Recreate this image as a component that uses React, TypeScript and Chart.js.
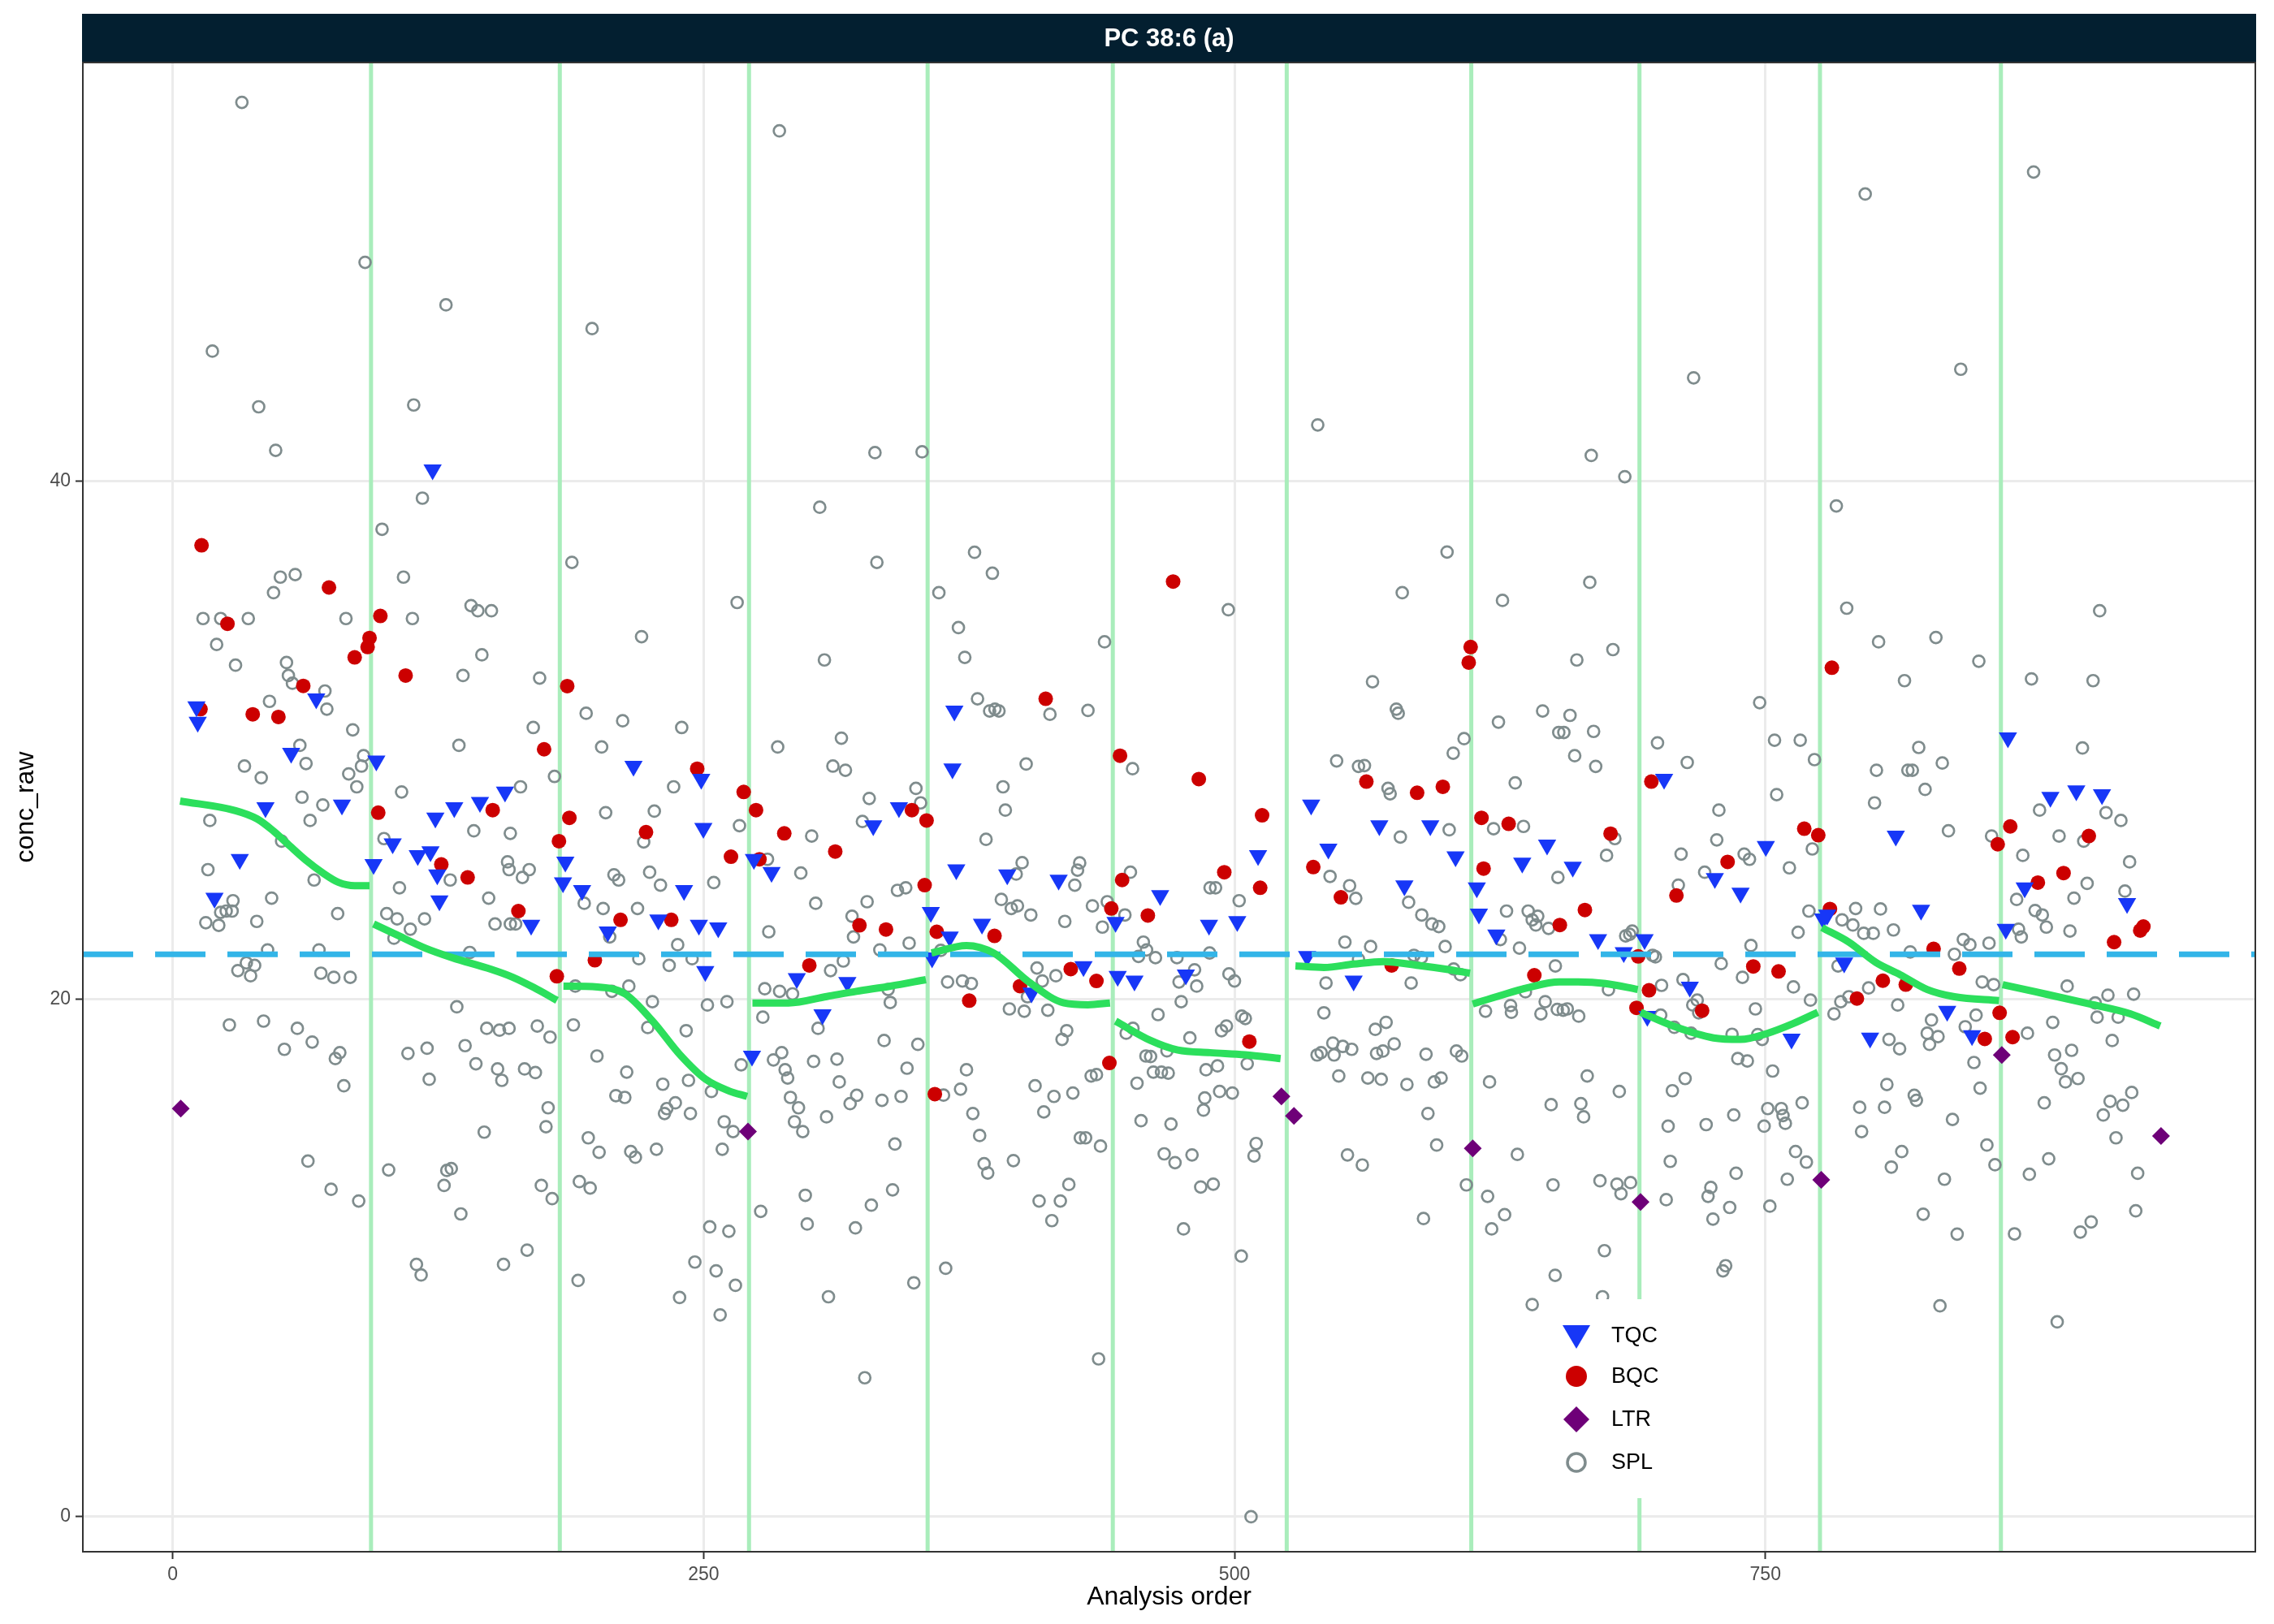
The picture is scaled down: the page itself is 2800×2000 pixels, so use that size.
import { useEffect, useRef } from "react"
import { Chart, registerables } from "chart.js"

Chart.register(...registerables)

const xTicks = [0, 250, 500, 750]
const yTicks = [0, 20, 40]
const meanLevel = 21.73
const batchBreaks = [93.4, 182.3, 271.4, 355.5, 442.7, 524.6, 611.5, 690.7, 775.7, 860.9]

// [analysis order, conc_raw]
const splPoints: [number, number][] = [
  [50.7, 36.3], [57.7, 36.4], [47.5, 35.7], [108.7, 36.3], [14.3, 34.7], [22.6, 34.7], [35.6, 34.7], [81.6, 34.7],
  [112.9, 34.7], [140.5, 35.2], [143.7, 35.0], [150.1, 35.0], [20.7, 33.7], [29.6, 32.9], [145.6, 33.3], [53.6, 33.0],
  [54.5, 32.5], [56.4, 32.2], [71.7, 31.9], [72.6, 31.2], [136.7, 32.5], [45.6, 31.5], [84.8, 30.4], [134.8, 29.8],
  [59.9, 29.8], [62.8, 29.1], [89.9, 29.4], [88.9, 29.0], [82.9, 28.7], [86.7, 28.2], [33.8, 29.0], [41.7, 28.55],
  [107.8, 28.0], [60.9, 27.8], [70.7, 27.5], [17.5, 26.9], [64.7, 26.9], [51.3, 26.1], [99.5, 26.2], [141.8, 26.5],
  [159, 26.4], [157.7, 25.3], [158.4, 25.0], [130.7, 24.6], [106.8, 24.3], [148.8, 23.9], [151.8, 22.9], [159, 22.9],
  [16.6, 25.0], [66.6, 24.6], [28.4, 23.8], [25.2, 23.4], [22.6, 23.35], [28.0, 23.4], [15.6, 22.95], [21.7, 22.85],
  [46.6, 23.9], [39.6, 23.0], [77.7, 23.3], [100.8, 23.3], [105.7, 23.1], [111.9, 22.7], [104.2, 22.35], [118.6, 23.1],
  [139.9, 21.8], [44.7, 21.9], [68.9, 21.9], [34.7, 21.4], [38.6, 21.3], [30.7, 21.1], [36.7, 20.9], [69.8, 21.0],
  [75.9, 20.84], [83.6, 20.84], [133.8, 19.7], [26.7, 19.0], [42.8, 19.15], [58.7, 18.87], [65.7, 18.34], [52.6, 18.06],
  [78.7, 17.93], [76.6, 17.7], [80.6, 16.65], [110.8, 17.9], [119.8, 18.1], [120.8, 16.9], [137.7, 18.2], [142.8, 17.5],
  [147.9, 18.87], [153.9, 18.8], [158.4, 18.87], [153.0, 17.3], [155.0, 16.86], [146.7, 14.86], [63.7, 13.74], [74.6, 12.65],
  [87.6, 12.2], [101.7, 13.4], [131.2, 13.45], [129.1, 13.38], [127.8, 12.8], [135.7, 11.7], [114.8, 9.75], [117, 9.34],
  [155.8, 9.75], [32.6, 54.64], [90.6, 48.46], [128.7, 46.82], [18.7, 45.03], [40.5, 42.88], [113.5, 42.95], [48.5, 41.2],
  [117.6, 39.35], [98.6, 38.15],
  [265.8, 35.32], [220.8, 34.0], [172.8, 32.4], [306.9, 33.1], [194.7, 31.04], [169.8, 30.49], [211.9, 30.75], [239.7, 30.49],
  [202, 29.74], [284.9, 29.74], [314.9, 30.08], [310.9, 29.0], [316.8, 28.84], [179.8, 28.6], [235.9, 28.2], [163.8, 28.2],
  [266.9, 26.7], [203.9, 27.2], [226.8, 27.26], [221.8, 26.07], [300.9, 26.3], [280.1, 25.4], [295.8, 24.87], [167.9, 25.0],
  [164.7, 24.7], [207.8, 24.8], [210, 24.6], [224.6, 24.9], [229.7, 24.4], [254.8, 24.5], [302.8, 23.7], [193.8, 23.7],
  [202.7, 23.5], [218.9, 23.5], [161.5, 22.9], [205.8, 22.4], [280.7, 22.6], [319.9, 23.2], [320.6, 22.4], [237.8, 22.1],
  [219.5, 21.56], [233.8, 21.3], [244.6, 21.56], [315.8, 21.47], [309.8, 21.1], [189.6, 20.5], [206.8, 20.3], [214.8, 20.5],
  [278.8, 20.4], [285.8, 20.3], [291.9, 20.2], [225.9, 19.9], [251.8, 19.77], [261, 19.9], [303.9, 18.87], [277.9, 19.3],
  [171.7, 18.96], [177.7, 18.53], [188.7, 19.0], [223.7, 18.9], [241.8, 18.78], [267.7, 17.46], [282.9, 17.65], [286.8, 17.93],
  [288.4, 17.27], [289.6, 16.95], [290.9, 16.2], [294.7, 15.8], [292.8, 15.26], [296.7, 14.88], [301.8, 17.59], [312.8, 17.68],
  [313.9, 16.8], [307.9, 15.45], [319, 15.96], [322.1, 16.28], [199.8, 17.8], [213.8, 17.18], [165.7, 17.3], [170.8, 17.16],
  [208.7, 16.27], [212.9, 16.2], [230.8, 16.71], [242.9, 16.86], [253.7, 16.43], [236.7, 15.99], [232.7, 15.77], [231.6, 15.58],
  [243.8, 15.58], [176.8, 15.8], [175.8, 15.07], [259.7, 15.26], [263.9, 14.88], [258.8, 14.2], [195.7, 14.64], [200.8, 14.08],
  [215.7, 14.11], [217.9, 13.89], [227.8, 14.2], [173.6, 12.8], [178.7, 12.29], [191.5, 12.95], [196.6, 12.7], [276.9, 11.8],
  [297.9, 12.42], [298.8, 11.31], [321.5, 11.16], [252.9, 11.2], [261.9, 11.03], [166.9, 10.3], [190.9, 9.13], [245.9, 9.84],
  [255.9, 9.5], [265.0, 8.94], [238.7, 8.47], [257.8, 7.8], [308.8, 8.5], [188, 36.87], [197.5, 45.9], [285.7, 53.54],
  [304.7, 39.0], [325.9, 5.37],
  [386, 36.45], [360.8, 35.7], [370, 34.35], [373, 33.2], [438.8, 33.8], [379, 31.6], [384.7, 31.13], [387.2, 31.2],
  [389.1, 31.13], [413.1, 31.0], [431, 31.15], [401.9, 29.08], [452, 28.9], [391, 28.2], [392.1, 27.3], [383, 26.17],
  [328, 27.75], [324.8, 26.86], [350, 28.14], [352.2, 27.58], [400, 25.27], [397.2, 24.83], [427.1, 25.26], [426.1, 24.98],
  [424.8, 24.4], [451, 24.9], [341.3, 24.2], [345.2, 24.3], [327, 23.76], [333, 21.9], [346.8, 22.16], [336.9, 20.37],
  [337.9, 19.87], [361.7, 21.88], [390.2, 23.85], [394.9, 23.5], [397.8, 23.6], [404.1, 23.25], [420.1, 23.0], [433.1, 23.6],
  [440.1, 23.76], [437.8, 22.78], [448.4, 23.25], [488.5, 24.3], [457.1, 22.2], [458.6, 21.9], [462.8, 21.6], [454.8, 21.65],
  [472.9, 21.6], [481.2, 21.13], [473.9, 20.66], [482.2, 20.5], [474.9, 19.9], [364.9, 20.66], [371.9, 20.7], [376.1, 20.6],
  [402.5, 20.09], [407, 21.2], [409.5, 20.7], [415.9, 20.9], [394, 19.62], [401, 19.53], [412.1, 19.57], [464, 19.4],
  [449, 18.68], [452.2, 18.87], [479, 18.5], [421, 18.78], [418.8, 18.44], [335, 18.4], [350.9, 18.25], [345.8, 17.33],
  [373.8, 17.27], [371, 16.52], [458.3, 17.8], [460.5, 17.78], [461.8, 17.18], [465.6, 17.18], [468.8, 17.14], [468.2, 18.0],
  [454.1, 16.75], [432.5, 17.03], [435, 17.08], [486.6, 17.27], [486, 16.18], [485.4, 15.71], [334, 16.09], [343, 16.24],
  [363, 16.29], [376.8, 15.58], [380, 14.73], [406.1, 16.65], [415, 16.24], [423.9, 16.37], [410.2, 15.64], [456, 15.3],
  [470.1, 15.17], [340.1, 14.4], [427.4, 14.64], [429.9, 14.64], [436.9, 14.32], [382.1, 13.64], [383.8, 13.28], [395.9, 13.76],
  [466.9, 14.02], [472, 13.68], [480, 13.98], [339, 12.63], [329, 12.04], [484.1, 12.74], [408, 12.2], [418, 12.2],
  [414, 11.44], [422, 12.84], [476, 11.12], [364, 9.6], [349, 9.04], [331.6, 36.87], [330.7, 41.11], [352.9, 41.14],
  [377.6, 37.26], [436, 6.1],
  [497.1, 35.04], [579, 35.7], [626.2, 35.4], [565, 32.26], [576.2, 31.2], [577.1, 31.04], [624.3, 30.7], [645.1, 31.13],
  [652.7, 30.3], [608.1, 30.06], [603, 29.5], [548.1, 29.2], [558.4, 28.99], [561.2, 29.02], [572.3, 28.14], [573.3, 27.93],
  [632.2, 28.35], [578.1, 26.26], [601.1, 26.54], [622, 26.58], [636.1, 26.67], [491.1, 24.3], [502.2, 23.8], [545, 24.74],
  [554.2, 24.38], [557.1, 23.89], [582, 23.74], [588.2, 23.25], [593, 22.9], [596.2, 22.8], [628.1, 23.4], [638.3, 23.4],
  [640.2, 23.06], [642.8, 23.2], [641.9, 22.86], [647.9, 22.73], [652.3, 24.7], [488.3, 21.78], [497.4, 20.97], [500, 20.7],
  [503.4, 19.34], [505.1, 19.25], [496.2, 18.96], [493.9, 18.78], [506, 17.5], [492, 17.42], [493, 16.43], [499, 16.37],
  [510.2, 14.42], [509.2, 13.94], [490, 12.85], [503.2, 10.07], [552, 22.2], [564.1, 22.03], [558.4, 21.54], [584.5, 21.69],
  [588, 21.6], [599.2, 22.03], [603.2, 21.16], [606.4, 20.94], [543.1, 20.62], [583.2, 20.62], [625.2, 22.3], [634.2, 21.97],
  [651.1, 21.28], [637, 20.28], [618.2, 19.53], [630, 19.75], [630.4, 19.49], [644.3, 19.43], [646.3, 19.9], [652, 19.6],
  [542.1, 19.47], [566.3, 18.83], [571.4, 19.1], [538.9, 17.84], [540.8, 17.93], [546.3, 18.3], [551, 18.17], [555.2, 18.06],
  [546.9, 17.84], [566.9, 17.9], [569.9, 17.99], [575.2, 18.27], [549.1, 17.03], [562.8, 16.95], [569.1, 16.9], [581.2, 16.7],
  [590.2, 17.87], [604.5, 17.99], [607, 17.8], [594.1, 16.8], [597.3, 16.95], [620.1, 16.8], [591.1, 15.58], [649.1, 15.92],
  [595.2, 14.36], [633.2, 14.0], [553.2, 13.98], [560.2, 13.59], [609.2, 12.82], [650, 12.82], [619.2, 12.38], [627.2, 11.67],
  [621.1, 11.12], [589, 11.52], [651, 9.33], [640.2, 8.2], [539.2, 42.18], [600.1, 37.27], [507.8, 0.0],
  [667.3, 36.1], [788.3, 35.1], [803.3, 33.8], [815.5, 32.3], [661.2, 33.1], [678.2, 33.5], [747.3, 31.45], [658, 30.96],
  [655.1, 30.3], [669.1, 30.34], [660.2, 29.4], [670.1, 28.99], [699.2, 29.9], [713.2, 29.14], [754.3, 30.0], [766.4, 30.0],
  [773.1, 29.25], [755.3, 27.9], [802.3, 28.84], [801.4, 27.58], [817.1, 28.84], [728.1, 27.3], [727.1, 26.15], [772.1, 25.8],
  [679.1, 26.2], [675.2, 25.55], [710.3, 25.6], [721.4, 24.9], [740, 25.6], [742.5, 25.4], [761.3, 25.07], [709, 24.4],
  [684.2, 22.44], [687.3, 22.63], [686.1, 22.5], [696.9, 21.69], [698.2, 21.63], [676.1, 20.36], [701.1, 20.53], [711.2, 20.75],
  [717.9, 19.96], [715.8, 19.77], [718.6, 19.47], [700.7, 19.38], [707.1, 18.91], [715, 18.68], [656.7, 19.62], [654.8, 19.57],
  [662.1, 19.34], [729.2, 21.37], [743.2, 22.07], [739.2, 20.84], [765.4, 22.58], [770.5, 23.4], [763.2, 20.47], [771.2, 19.96],
  [745.3, 19.62], [734.3, 18.64], [746.4, 18.63], [748.5, 18.44], [737, 17.7], [741.5, 17.61], [753.4, 17.22], [792.5, 23.5],
  [804.2, 23.48], [810.3, 22.67], [786.1, 23.06], [791.2, 22.86], [796.3, 22.54], [800.8, 22.54], [784.2, 21.28], [798.6, 20.43],
  [789.3, 20.09], [785.5, 19.9], [782.3, 19.43], [812.3, 19.77], [808.2, 18.44], [813.2, 18.08], [807.2, 16.7], [806.1, 15.82],
  [794.4, 15.82], [795.3, 14.88], [814.2, 14.11], [809.3, 13.51], [666.1, 17.03], [681.2, 16.43], [663.1, 15.96], [664.4, 15.45],
  [706.2, 16.46], [712.2, 16.93], [704.2, 15.09], [722.1, 15.15], [735.1, 15.52], [751.1, 15.77], [757.5, 15.77], [758.3, 15.5],
  [759.4, 15.2], [749.4, 15.09], [767.3, 15.99], [705.2, 13.73], [764.2, 14.11], [769.3, 13.7], [760.3, 13.04], [736.2, 13.27],
  [672.1, 12.98], [680.1, 12.85], [682, 12.48], [686.5, 12.91], [703.3, 12.25], [724.3, 12.72], [723, 12.38], [725.3, 11.5],
  [733.2, 11.95], [752.1, 12.0], [674.2, 10.28], [731.3, 9.7], [730, 9.5], [673.3, 8.5], [797, 51.1], [716.2, 44.0],
  [668, 41.0], [683.8, 40.18], [783.4, 39.05],
  [907.4, 35.0], [830.3, 33.97], [850.5, 33.05], [875.3, 32.37], [904.3, 32.3], [899.3, 29.7], [822.2, 29.72], [833.3, 29.12],
  [819.2, 28.84], [825.2, 28.1], [879.1, 27.3], [910.4, 27.2], [917.4, 26.9], [836.2, 26.5], [856.5, 26.3], [888.3, 26.3],
  [899.9, 26.1], [871.2, 25.55], [921.5, 25.3], [901.5, 24.47], [895.3, 23.9], [868.3, 23.85], [919.3, 24.17], [877, 23.42],
  [880.4, 23.25], [882.3, 22.78], [893.4, 22.63], [869.2, 22.7], [870.5, 22.4], [843.2, 22.3], [846.3, 22.1], [855.3, 22.16],
  [818.2, 21.82], [839, 21.73], [852.1, 20.66], [857.5, 20.56], [892.1, 20.5], [911.3, 20.15], [923.4, 20.19], [905.3, 19.85],
  [906.2, 19.3], [916.1, 19.3], [849.2, 19.38], [828.2, 19.19], [826.2, 18.68], [831.3, 18.55], [827.3, 18.25], [844.1, 18.93],
  [873.4, 18.68], [885.3, 19.1], [848.2, 17.55], [851.1, 16.56], [886.2, 17.84], [894.2, 18.02], [889.3, 17.31], [891.3, 16.8],
  [897.2, 16.93], [913.3, 18.4], [881.3, 15.99], [912.3, 16.05], [918.3, 15.9], [922.5, 16.39], [909.1, 15.52], [820.1, 16.28],
  [821.1, 16.09], [838.1, 15.35], [915.1, 14.64], [854.3, 14.36], [858.1, 13.6], [883.4, 13.83], [874.3, 13.23], [834.3, 13.04],
  [925.3, 13.27], [824.3, 11.69], [840.3, 10.92], [867.3, 10.93], [898.3, 11.0], [903.4, 11.39], [924.4, 11.82], [832.2, 8.15],
  [887.4, 7.53], [876.3, 51.95], [842, 44.33],
]

const tqcPoints: [number, number][] = [
  [11.2, 31.3], [11.8, 30.7], [67.6, 31.6], [55.8, 29.5], [95.9, 29.2], [79.7, 27.5], [43.7, 27.4], [103.6, 26.0],
  [115.4, 25.55], [121.4, 25.7], [124.6, 24.8], [125.6, 23.8], [123.7, 27.0], [132.6, 27.4], [144.7, 27.6], [156.5, 28.0],
  [31.6, 25.4], [19.7, 23.9], [94.6, 25.2], [122.4, 40.45],
  [217, 29.0], [248.9, 28.5], [249.9, 26.6], [273.7, 25.4], [282, 24.9], [184.9, 25.3], [183.8, 24.5], [192.8, 24.2],
  [168.8, 22.86], [204.9, 22.6], [228.7, 23.06], [240.8, 24.2], [247.8, 22.86], [256.9, 22.76], [250.8, 21.07], [293.9, 20.8],
  [317.7, 20.65], [306, 19.4], [272.8, 17.8],
  [368.1, 31.13], [367.2, 28.9], [329.9, 26.7], [342, 27.4], [369, 25.0], [393, 24.8], [417.2, 24.6], [465, 24.0],
  [357, 23.35], [365.9, 22.4], [357.6, 21.6], [381.1, 22.9], [444, 22.97], [428.9, 21.26], [445, 20.88], [452.9, 20.7],
  [477.1, 20.94], [404.4, 20.24], [488, 22.86],
  [536.1, 27.5], [568.2, 26.7], [592.2, 26.7], [647.2, 25.96], [511.1, 25.55], [544.2, 25.8], [604.1, 25.5], [580, 24.38],
  [614.1, 24.3], [635.5, 25.26], [615.1, 23.29], [623.3, 22.48], [501.3, 23.0], [534.2, 21.65], [556.1, 20.7],
  [702.3, 28.5], [750.2, 25.9], [811.4, 26.3], [659.3, 25.1], [726.2, 24.66], [738.3, 24.1], [671.2, 22.3], [683.3, 21.8],
  [693.1, 22.3], [694.4, 19.34], [714.4, 20.47], [762.3, 18.46], [779.1, 23.25], [777.2, 23.1], [787.1, 21.4], [799.3, 18.5],
  [864.2, 30.1], [884.2, 27.8], [896.4, 28.05], [908.5, 27.9], [872.1, 24.3], [920.3, 23.7], [823.3, 23.44], [863.2, 22.7],
  [835.6, 19.53], [847.3, 18.59],
]

const bqcPoints: [number, number][] = [
  [73.6, 35.9], [25.8, 34.5], [97.8, 34.8], [92.7, 33.95], [91.8, 33.6], [85.7, 33.2], [109.7, 32.5], [61.5, 32.1],
  [13.1, 31.2], [37.7, 31.0], [49.8, 30.9], [96.8, 27.2], [150.7, 27.3], [126.5, 25.2], [138.9, 24.7], [13.6, 37.53],
  [185.8, 32.09], [174.9, 29.65], [247, 28.9], [268.9, 28.0], [274.7, 27.3], [186.8, 27.0], [222.9, 26.45], [288, 26.4],
  [312, 25.7], [181.9, 26.1], [262.9, 25.5], [276.3, 25.4], [162.8, 23.4], [210.9, 23.06], [234.8, 23.06], [323.4, 22.85],
  [198.8, 21.5], [180.9, 20.88], [299.8, 21.3],
  [471.1, 36.13], [411.1, 31.6], [446.1, 29.4], [483.2, 28.5], [348.1, 27.3], [355, 26.9], [447.1, 24.6], [354.1, 24.4],
  [359.8, 22.6], [335.9, 22.69], [387, 22.44], [442, 23.5], [459.2, 23.23], [422.9, 21.16], [435, 20.7], [375.1, 19.94],
  [399, 20.5], [441.1, 17.53], [358.9, 16.33],
  [611.2, 33.6], [610.3, 33.0], [562.1, 28.4], [586, 27.97], [598.1, 28.2], [513, 27.1], [616.3, 27.0], [629.1, 26.77],
  [495.2, 24.9], [512.1, 24.3], [537.1, 25.1], [550.1, 23.93], [617.3, 25.04], [641.2, 20.92], [574, 21.3], [507, 18.36],
  [781.3, 32.8], [696.3, 28.4], [768.3, 26.58], [774.9, 26.33], [677.1, 26.39], [732.2, 25.3], [708.1, 24.0], [665, 23.44],
  [653.2, 22.86], [690.1, 21.65], [695.2, 20.34], [689.3, 19.66], [720.2, 19.55], [744.3, 21.26], [756.2, 21.07], [780.4, 23.48],
  [805.3, 20.71], [816.1, 20.56], [793.1, 20.02],
  [865.3, 26.67], [859.4, 25.98], [902.3, 26.3], [890.4, 24.87], [878.3, 24.5], [926.5, 22.65], [928, 22.8], [914.2, 22.2],
  [829.2, 21.94], [841.3, 21.18], [860.3, 19.47], [853.3, 18.46], [866.4, 18.53],
]

const ltrPoints: [number, number][] = [
  [3.8, 15.77], [270.9, 14.88], [522.1, 16.24], [528, 15.49], [612.2, 14.23], [691.2, 12.16], [776.3, 13.02], [861.3, 17.84],
  [936.3, 14.71],
]

// per-batch smoothed trend
const loessBatches: [number, number][][] = [
  [[3.5, 27.65], [29.6, 27.28], [39.8, 26.96], [47.5, 26.49], [55.1, 25.92], [62.8, 25.36], [70.4, 24.89], [78.1, 24.51], [85.7, 24.38], [92.7, 24.38]],
  [[94.6, 22.9], [105, 22.5], [118.9, 21.97], [131.6, 21.6], [150, 21.15], [160, 20.85], [170, 20.45], [181, 19.95]],
  [[184, 20.5], [200, 20.47], [213, 20.2], [226, 19.15], [239, 17.84], [251, 16.9], [262, 16.45], [270.5, 16.24]],
  [[273, 19.85], [290, 19.85], [308, 20.1], [322, 20.3], [338, 20.5], [354.7, 20.75]],
  [[357.3, 21.78], [373.8, 22.07], [386.6, 21.78], [403.2, 20.66], [419.7, 19.85], [431, 19.78], [441.4, 19.85]],
  [[444, 19.15], [460.5, 18.4], [473.3, 18.03], [488.5, 17.93], [505, 17.85], [521.7, 17.7]],
  [[528.7, 21.28], [542.1, 21.22], [556, 21.35], [570.1, 21.45], [586.7, 21.3], [600, 21.15], [610.9, 21.0]],
  [[612.2, 19.81], [624.9, 20.13], [637.7, 20.43], [653, 20.66], [661.8, 20.66], [674.6, 20.6], [689.9, 20.37]],
  [[691.2, 19.49], [706.5, 18.96], [725.6, 18.5], [738.3, 18.44], [751.1, 18.68], [763, 19.05], [774.7, 19.49]],
  [[776.6, 22.76], [789.3, 22.2], [802.1, 21.41], [813.5, 20.94], [826.2, 20.37], [839, 20.09], [860, 19.94]],
  [[861.7, 20.56], [877.2, 20.28], [902.7, 19.81], [921.8, 19.43], [935.9, 18.96]],
]

const X_MIN = -42.3
const X_MAX = 980.7
const Y_MIN = -1.35
const Y_MAX = 56.18

const FONT = "'Liberation Sans', Arial, Helvetica, sans-serif"
const SPL_COLOR = "#7F8C8D"
const TQC_COLOR = "#1737F7"
const BQC_COLOR = "#CC0000"
const LTR_COLOR = "#6E0078"

const toXY = (pts: [number, number][]) => pts.map(([x, y]) => ({ x, y }))

// batch separators, drawn under the points
const batchLinesPlugin = {
  id: "batchLines",
  beforeDatasetsDraw(chart: any) {
    const { ctx, chartArea, scales } = chart
    ctx.save()
    ctx.strokeStyle = "#A9EDBB"
    ctx.lineWidth = 5
    batchBreaks.forEach((b) => {
      const x = scales.x.getPixelForValue(b)
      ctx.beginPath()
      ctx.moveTo(x, chartArea.top)
      ctx.lineTo(x, chartArea.bottom)
      ctx.stroke()
    })
    ctx.restore()
  },
}

// strip, frame, axis titles and the legend
const decorPlugin = {
  id: "decor",
  afterDraw(chart: any) {
    const { ctx, chartArea } = chart
    const { left, right, top, bottom } = chartArea
    ctx.save()

    // facet strip
    ctx.fillStyle = "#031F30"
    ctx.fillRect(left - 1, 17, right - left + 2, top - 17)
    ctx.fillStyle = "#FFFFFF"
    ctx.font = `bold 31px ${FONT}`
    ctx.textAlign = "center"
    ctx.textBaseline = "middle"
    ctx.fillText("PC 38:6 (a)", (left + right) / 2, (17 + top) / 2 + 1)

    // panel border
    ctx.strokeStyle = "#333333"
    ctx.lineWidth = 2
    ctx.strokeRect(left, top, right - left, bottom - top)

    // axis titles
    ctx.fillStyle = "#000000"
    ctx.font = `32px ${FONT}`
    ctx.fillText("Analysis order", (left + right) / 2, 1967)
    ctx.save()
    ctx.translate(32, (top + bottom) / 2)
    ctx.rotate(-Math.PI / 2)
    ctx.fillText("conc_raw", 0, 0)
    ctx.restore()

    // legend
    ctx.fillStyle = "#FFFFFF"
    ctx.fillRect(1902, 1600, 170, 245)
    const mx = 1941
    const rows = [1645, 1695, 1748, 1801]

    ctx.fillStyle = TQC_COLOR
    ctx.beginPath()
    ctx.moveTo(mx - 17, rows[0] - 13)
    ctx.lineTo(mx + 17, rows[0] - 13)
    ctx.lineTo(mx, rows[0] + 16)
    ctx.closePath()
    ctx.fill()

    ctx.fillStyle = BQC_COLOR
    ctx.beginPath()
    ctx.arc(mx, rows[1], 13, 0, Math.PI * 2)
    ctx.fill()

    ctx.fillStyle = LTR_COLOR
    ctx.beginPath()
    ctx.moveTo(mx, rows[2] - 16)
    ctx.lineTo(mx + 16, rows[2])
    ctx.lineTo(mx, rows[2] + 16)
    ctx.lineTo(mx - 16, rows[2])
    ctx.closePath()
    ctx.fill()

    ctx.strokeStyle = SPL_COLOR
    ctx.lineWidth = 3.5
    ctx.beginPath()
    ctx.arc(mx, rows[3], 11, 0, Math.PI * 2)
    ctx.stroke()

    ctx.fillStyle = "#000000"
    ctx.font = `27px ${FONT}`
    ctx.textAlign = "left"
    ;["TQC", "BQC", "LTR", "SPL"].forEach((t, i) => ctx.fillText(t, 1984, rows[i] + 1))

    ctx.restore()
  },
}

export default function App() {
  const chartRef = useRef<HTMLCanvasElement>(null)
  const chartInstance = useRef<Chart | null>(null)

  useEffect(() => {
    document.body.style.margin = "0"
    if (!chartRef.current) return
    if (chartInstance.current) chartInstance.current.destroy()
    const ctx = chartRef.current.getContext("2d")
    if (!ctx) return

    Chart.defaults.font.family = FONT

    const loessSets = loessBatches.map((seg) => ({
      label: "loess",
      data: toXY(seg),
      showLine: true,
      borderColor: "#2CDF5C",
      borderWidth: 9,
      pointRadius: 0,
      cubicInterpolationMode: "monotone" as const,
      borderCapStyle: "butt" as const,
    }))

    chartInstance.current = new Chart(ctx, {
      type: "scatter",
      data: {
        datasets: [
          ...loessSets,
          {
            label: "mean",
            data: [
              { x: X_MIN, y: meanLevel },
              { x: X_MAX, y: meanLevel },
            ],
            showLine: true,
            borderColor: "#33B5E8",
            borderWidth: 7,
            borderDash: [62, 27],
            pointRadius: 0,
          },
          {
            label: "TQC",
            data: toXY(tqcPoints),
            pointStyle: "triangle",
            rotation: 180,
            pointRadius: 13,
            backgroundColor: TQC_COLOR,
            borderWidth: 0,
          },
          {
            label: "BQC",
            data: toXY(bqcPoints),
            pointStyle: "circle",
            pointRadius: 9,
            backgroundColor: BQC_COLOR,
            borderWidth: 0,
          },
          {
            label: "LTR",
            data: toXY(ltrPoints),
            pointStyle: "rectRot",
            pointRadius: 11,
            backgroundColor: LTR_COLOR,
            borderWidth: 0,
          },
          {
            label: "SPL",
            data: toXY(splPoints),
            pointStyle: "circle",
            pointRadius: 7,
            backgroundColor: "rgba(0,0,0,0)",
            borderColor: SPL_COLOR,
            borderWidth: 2.7,
          },
        ] as any,
      },
      options: {
        responsive: false,
        maintainAspectRatio: false,
        devicePixelRatio: 1,
        animation: false,
        layout: { padding: { top: 77, right: 23, left: 0, bottom: 0 } },
        plugins: {
          legend: { display: false },
          tooltip: { enabled: false },
        },
        scales: {
          x: {
            type: "linear",
            min: X_MIN,
            max: X_MAX,
            afterBuildTicks: (s: any) => {
              s.ticks = xTicks.map((v) => ({ value: v }))
            },
            afterFit: (s: any) => {
              s.height = 89
            },
            border: { display: false },
            grid: {
              color: "#EBEBEB",
              lineWidth: 3,
              drawTicks: true,
              tickLength: 9,
              tickColor: "#333333",
              tickWidth: 2,
            },
            ticks: {
              color: "#4D4D4D",
              font: { size: 23 },
              padding: 6,
              maxRotation: 0,
              autoSkip: false,
            },
          },
          y: {
            type: "linear",
            min: Y_MIN,
            max: Y_MAX,
            afterBuildTicks: (s: any) => {
              s.ticks = yTicks.map((v) => ({ value: v }))
            },
            afterFit: (s: any) => {
              s.width = 102
            },
            border: { display: false },
            grid: {
              color: "#EBEBEB",
              lineWidth: 3,
              drawTicks: true,
              tickLength: 9,
              tickColor: "#333333",
              tickWidth: 2,
            },
            ticks: {
              color: "#4D4D4D",
              font: { size: 23 },
              padding: 6,
              autoSkip: false,
            },
          },
        },
      },
      plugins: [batchLinesPlugin, decorPlugin],
    })

    return () => {
      if (chartInstance.current) {
        chartInstance.current.destroy()
        chartInstance.current = null
      }
    }
  }, [])

  return (
    <div style={{ width: 2800, height: 2000, background: "#FFFFFF" }}>
      <canvas ref={chartRef} width={2800} height={2000} style={{ display: "block" }} />
    </div>
  )
}
